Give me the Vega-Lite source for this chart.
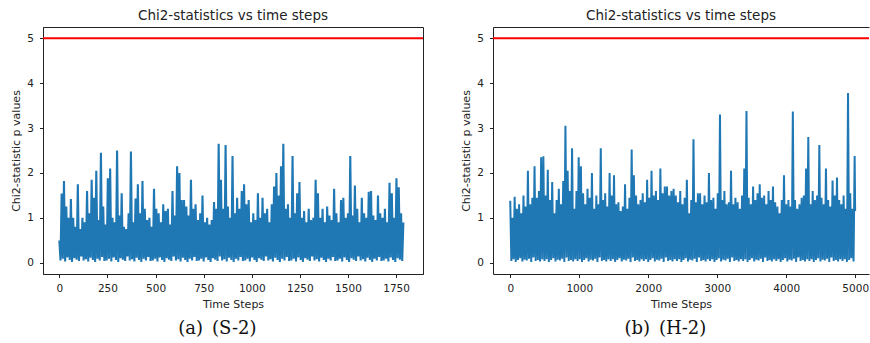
{
"$schema": "https://vega.github.io/schema/vega-lite/v6.json",
"background": "white",
"padding": {"left": 10, "top": 8, "right": 0, "bottom": 0},
"spacing": 35,
"config": {
  "font": "DejaVu Sans",
  "view": {"stroke": "#222", "strokeWidth": 1},
  "axis": {"grid": false, "labelFont": "DejaVu Sans", "labelFontSize": 10.5, "labelColor": "#222", "titleFont": "DejaVu Sans", "titleFontSize": 11, "titleFontWeight": "normal", "titleColor": "#222", "tickColor": "#222", "domainColor": "#222", "tickSize": 3.5, "labelPadding": 3, "titlePadding": 5},
  "axisX": {"labelPadding": 5.5, "titlePadding": 5},
  "axisY": {"labelPadding": 6, "titlePadding": 5},
  "title": {"fontWeight": "normal", "color": "#222"}
},
"datasets": {
"s2": [
{"t":0,"v":0.5},{"t":6,"v":0.05},{"t":12,"v":1.54},{"t":18,"v":0.09},{"t":24,"v":1.82},{"t":30,"v":0.03},{"t":36,"v":1.25},{"t":42,"v":0.12},{"t":48,"v":1.0},{"t":54,"v":0.06},
{"t":60,"v":1.42},{"t":66,"v":0.02},{"t":72,"v":1.0},{"t":78,"v":0.1},{"t":84,"v":0.8},{"t":90,"v":0.07},{"t":96,"v":1.75},{"t":102,"v":0.04},{"t":108,"v":0.75},{"t":114,"v":0.14},
{"t":120,"v":1.0},{"t":126,"v":0.05},{"t":132,"v":0.9},{"t":138,"v":0.08},{"t":144,"v":1.6},{"t":150,"v":0.03},{"t":156,"v":1.1},{"t":162,"v":0.11},{"t":168,"v":1.85},{"t":174,"v":0.06},
{"t":180,"v":1.45},{"t":186,"v":0.02},{"t":192,"v":2.05},{"t":198,"v":0.09},{"t":204,"v":0.95},{"t":210,"v":0.05},{"t":216,"v":2.45},{"t":222,"v":0.13},{"t":228,"v":1.25},{"t":234,"v":0.04},
{"t":240,"v":0.85},{"t":246,"v":0.05},{"t":252,"v":1.88},{"t":258,"v":0.09},{"t":264,"v":2.1},{"t":270,"v":0.03},{"t":276,"v":1.0},{"t":282,"v":0.12},{"t":288,"v":0.9},{"t":294,"v":0.06},
{"t":300,"v":2.5},{"t":306,"v":0.02},{"t":312,"v":1.05},{"t":318,"v":0.1},{"t":324,"v":1.55},{"t":330,"v":0.07},{"t":336,"v":0.8},{"t":342,"v":0.04},{"t":348,"v":0.75},{"t":354,"v":0.14},
{"t":360,"v":1.1},{"t":366,"v":0.05},{"t":372,"v":2.48},{"t":378,"v":0.08},{"t":384,"v":0.9},{"t":390,"v":0.03},{"t":396,"v":1.43},{"t":402,"v":0.11},{"t":408,"v":1.75},{"t":414,"v":0.06},
{"t":420,"v":1.1},{"t":426,"v":0.02},{"t":432,"v":1.82},{"t":438,"v":0.09},{"t":444,"v":1.2},{"t":450,"v":0.05},{"t":456,"v":0.95},{"t":462,"v":0.13},{"t":468,"v":1.0},{"t":474,"v":0.04},
{"t":480,"v":0.8},{"t":486,"v":0.05},{"t":492,"v":1.65},{"t":498,"v":0.09},{"t":504,"v":1.2},{"t":510,"v":0.03},{"t":516,"v":1.1},{"t":522,"v":0.12},{"t":528,"v":0.9},{"t":534,"v":0.06},
{"t":540,"v":1.3},{"t":546,"v":0.02},{"t":552,"v":1.15},{"t":558,"v":0.1},{"t":564,"v":1.2},{"t":570,"v":0.07},{"t":576,"v":0.85},{"t":582,"v":0.04},{"t":588,"v":1.6},{"t":594,"v":0.14},
{"t":600,"v":1.05},{"t":606,"v":0.05},{"t":612,"v":2.15},{"t":618,"v":0.08},{"t":624,"v":2.0},{"t":630,"v":0.03},{"t":636,"v":1.4},{"t":642,"v":0.11},{"t":648,"v":1.4},{"t":654,"v":0.06},
{"t":660,"v":1.25},{"t":666,"v":0.02},{"t":672,"v":1.05},{"t":678,"v":0.09},{"t":684,"v":1.85},{"t":690,"v":0.05},{"t":696,"v":1.2},{"t":702,"v":0.13},{"t":708,"v":1.3},{"t":714,"v":0.04},
{"t":720,"v":0.95},{"t":726,"v":0.05},{"t":732,"v":1.1},{"t":738,"v":0.09},{"t":744,"v":1.5},{"t":750,"v":0.03},{"t":756,"v":0.9},{"t":762,"v":0.12},{"t":768,"v":1.0},{"t":774,"v":0.06},
{"t":780,"v":0.85},{"t":786,"v":0.02},{"t":792,"v":0.95},{"t":798,"v":0.1},{"t":804,"v":1.35},{"t":810,"v":0.07},{"t":816,"v":1.2},{"t":822,"v":0.04},{"t":828,"v":2.65},{"t":834,"v":0.14},
{"t":840,"v":1.85},{"t":846,"v":0.05},{"t":852,"v":1.2},{"t":858,"v":0.08},{"t":864,"v":2.62},{"t":870,"v":0.03},{"t":876,"v":1.25},{"t":882,"v":0.11},{"t":888,"v":1.0},{"t":894,"v":0.06},
{"t":900,"v":2.38},{"t":906,"v":0.02},{"t":912,"v":1.1},{"t":918,"v":0.09},{"t":924,"v":1.45},{"t":930,"v":0.05},{"t":936,"v":1.2},{"t":942,"v":0.13},{"t":948,"v":1.6},{"t":954,"v":0.04},
{"t":960,"v":1.75},{"t":966,"v":0.05},{"t":972,"v":1.3},{"t":978,"v":0.09},{"t":984,"v":1.4},{"t":990,"v":0.03},{"t":996,"v":0.9},{"t":1002,"v":0.12},{"t":1008,"v":1.1},{"t":1014,"v":0.06},
{"t":1020,"v":0.95},{"t":1026,"v":0.02},{"t":1032,"v":1.55},{"t":1038,"v":0.1},{"t":1044,"v":1.0},{"t":1050,"v":0.07},{"t":1056,"v":1.45},{"t":1062,"v":0.04},{"t":1068,"v":1.1},{"t":1074,"v":0.14},
{"t":1080,"v":1.2},{"t":1086,"v":0.05},{"t":1092,"v":0.9},{"t":1098,"v":0.08},{"t":1104,"v":1.3},{"t":1110,"v":0.03},{"t":1116,"v":1.7},{"t":1122,"v":0.11},{"t":1128,"v":2.0},{"t":1134,"v":0.06},
{"t":1140,"v":1.5},{"t":1146,"v":0.02},{"t":1152,"v":2.15},{"t":1158,"v":0.09},{"t":1164,"v":2.65},{"t":1170,"v":0.05},{"t":1176,"v":1.2},{"t":1182,"v":0.13},{"t":1188,"v":1.3},{"t":1194,"v":0.04},
{"t":1200,"v":1.0},{"t":1206,"v":0.05},{"t":1212,"v":2.38},{"t":1218,"v":0.09},{"t":1224,"v":1.1},{"t":1230,"v":0.03},{"t":1236,"v":1.55},{"t":1242,"v":0.12},{"t":1248,"v":1.8},{"t":1254,"v":0.06},
{"t":1260,"v":1.0},{"t":1266,"v":0.02},{"t":1272,"v":1.15},{"t":1278,"v":0.1},{"t":1284,"v":0.9},{"t":1290,"v":0.07},{"t":1296,"v":1.2},{"t":1302,"v":0.04},{"t":1308,"v":0.95},{"t":1314,"v":0.14},
{"t":1320,"v":1.0},{"t":1326,"v":0.05},{"t":1332,"v":1.85},{"t":1338,"v":0.08},{"t":1344,"v":1.55},{"t":1350,"v":0.03},{"t":1356,"v":1.0},{"t":1362,"v":0.11},{"t":1368,"v":1.2},{"t":1374,"v":0.06},
{"t":1380,"v":0.9},{"t":1386,"v":0.02},{"t":1392,"v":1.25},{"t":1398,"v":0.09},{"t":1404,"v":1.05},{"t":1410,"v":0.05},{"t":1416,"v":0.95},{"t":1422,"v":0.13},{"t":1428,"v":1.65},{"t":1434,"v":0.04},
{"t":1440,"v":1.1},{"t":1446,"v":0.05},{"t":1452,"v":0.9},{"t":1458,"v":0.09},{"t":1464,"v":1.4},{"t":1470,"v":0.03},{"t":1476,"v":1.45},{"t":1482,"v":0.12},{"t":1488,"v":1.0},{"t":1494,"v":0.06},
{"t":1500,"v":1.1},{"t":1506,"v":0.02},{"t":1512,"v":2.38},{"t":1518,"v":0.1},{"t":1524,"v":1.05},{"t":1530,"v":0.07},{"t":1536,"v":1.72},{"t":1542,"v":0.04},{"t":1548,"v":1.2},{"t":1554,"v":0.14},
{"t":1560,"v":0.9},{"t":1566,"v":0.05},{"t":1572,"v":1.45},{"t":1578,"v":0.08},{"t":1584,"v":1.1},{"t":1590,"v":0.03},{"t":1596,"v":1.0},{"t":1602,"v":0.11},{"t":1608,"v":1.58},{"t":1614,"v":0.06},
{"t":1620,"v":1.6},{"t":1626,"v":0.02},{"t":1632,"v":1.05},{"t":1638,"v":0.09},{"t":1644,"v":0.95},{"t":1650,"v":0.05},{"t":1656,"v":1.5},{"t":1662,"v":0.13},{"t":1668,"v":1.1},{"t":1674,"v":0.04},
{"t":1680,"v":1.0},{"t":1686,"v":0.05},{"t":1692,"v":1.2},{"t":1698,"v":0.09},{"t":1704,"v":0.9},{"t":1710,"v":0.03},{"t":1716,"v":1.78},{"t":1722,"v":0.12},{"t":1728,"v":1.55},{"t":1734,"v":0.06},
{"t":1740,"v":1.0},{"t":1746,"v":0.02},{"t":1752,"v":1.88},{"t":1758,"v":0.1},{"t":1764,"v":1.68},{"t":1770,"v":0.07},{"t":1776,"v":1.1},{"t":1782,"v":0.04},{"t":1788,"v":0.9}
],
"h2": [
{"t":0,"v":1.38},{"t":16,"v":0.04},{"t":32,"v":1.0},{"t":48,"v":0.08},{"t":64,"v":1.47},{"t":80,"v":0.02},{"t":96,"v":1.2},{"t":112,"v":0.06},{"t":128,"v":1.3},{"t":144,"v":0.1},
{"t":160,"v":1.1},{"t":176,"v":0.03},{"t":192,"v":1.5},{"t":208,"v":0.07},{"t":224,"v":1.25},{"t":240,"v":0.05},{"t":256,"v":2.05},{"t":272,"v":0.09},{"t":288,"v":1.3},{"t":304,"v":0.02},
{"t":320,"v":1.45},{"t":336,"v":0.12},{"t":352,"v":2.15},{"t":368,"v":0.04},{"t":384,"v":1.45},{"t":400,"v":0.06},{"t":416,"v":1.6},{"t":432,"v":0.03},{"t":448,"v":2.35},{"t":464,"v":0.08},
{"t":480,"v":2.37},{"t":496,"v":0.04},{"t":512,"v":1.5},{"t":528,"v":0.08},{"t":544,"v":2.07},{"t":560,"v":0.02},{"t":576,"v":1.4},{"t":592,"v":0.06},{"t":608,"v":1.8},{"t":624,"v":0.1},
{"t":640,"v":1.1},{"t":656,"v":0.03},{"t":672,"v":1.4},{"t":688,"v":0.07},{"t":704,"v":1.65},{"t":720,"v":0.05},{"t":736,"v":1.3},{"t":752,"v":0.09},{"t":768,"v":1.82},{"t":784,"v":0.02},
{"t":800,"v":3.05},{"t":816,"v":0.12},{"t":832,"v":2.05},{"t":848,"v":0.04},{"t":864,"v":1.6},{"t":880,"v":0.06},{"t":896,"v":2.55},{"t":912,"v":0.03},{"t":928,"v":1.2},{"t":944,"v":0.08},
{"t":960,"v":1.6},{"t":976,"v":0.04},{"t":992,"v":2.35},{"t":1008,"v":0.08},{"t":1024,"v":2.15},{"t":1040,"v":0.02},{"t":1056,"v":1.55},{"t":1072,"v":0.06},{"t":1088,"v":1.3},{"t":1104,"v":0.1},
{"t":1120,"v":1.65},{"t":1136,"v":0.03},{"t":1152,"v":1.45},{"t":1168,"v":0.07},{"t":1184,"v":2.0},{"t":1200,"v":0.05},{"t":1216,"v":1.2},{"t":1232,"v":0.09},{"t":1248,"v":1.5},{"t":1264,"v":0.02},
{"t":1280,"v":1.3},{"t":1296,"v":0.12},{"t":1312,"v":2.55},{"t":1328,"v":0.04},{"t":1344,"v":1.4},{"t":1360,"v":0.06},{"t":1376,"v":1.55},{"t":1392,"v":0.03},{"t":1408,"v":1.25},{"t":1424,"v":0.08},
{"t":1440,"v":2.0},{"t":1456,"v":0.04},{"t":1472,"v":1.5},{"t":1488,"v":0.08},{"t":1504,"v":1.95},{"t":1520,"v":0.02},{"t":1536,"v":1.3},{"t":1552,"v":0.06},{"t":1568,"v":1.35},{"t":1584,"v":0.1},
{"t":1600,"v":1.15},{"t":1616,"v":0.03},{"t":1632,"v":1.25},{"t":1648,"v":0.07},{"t":1664,"v":1.75},{"t":1680,"v":0.05},{"t":1696,"v":1.2},{"t":1712,"v":0.09},{"t":1728,"v":1.45},{"t":1744,"v":0.02},
{"t":1760,"v":2.52},{"t":1776,"v":0.12},{"t":1792,"v":1.95},{"t":1808,"v":0.04},{"t":1824,"v":1.5},{"t":1840,"v":0.06},{"t":1856,"v":1.3},{"t":1872,"v":0.03},{"t":1888,"v":1.4},{"t":1904,"v":0.08},
{"t":1920,"v":1.55},{"t":1936,"v":0.04},{"t":1952,"v":1.35},{"t":1968,"v":0.08},{"t":1984,"v":1.85},{"t":2000,"v":0.02},{"t":2016,"v":1.45},{"t":2032,"v":0.06},{"t":2048,"v":2.05},{"t":2064,"v":0.1},
{"t":2080,"v":1.5},{"t":2096,"v":0.03},{"t":2112,"v":1.6},{"t":2128,"v":0.07},{"t":2144,"v":1.4},{"t":2160,"v":0.05},{"t":2176,"v":2.1},{"t":2192,"v":0.09},{"t":2208,"v":1.55},{"t":2224,"v":0.02},
{"t":2240,"v":1.7},{"t":2256,"v":0.12},{"t":2272,"v":1.7},{"t":2288,"v":0.04},{"t":2304,"v":1.5},{"t":2320,"v":0.06},{"t":2336,"v":1.6},{"t":2352,"v":0.03},{"t":2368,"v":1.65},{"t":2384,"v":0.08},
{"t":2400,"v":1.5},{"t":2416,"v":0.04},{"t":2432,"v":1.35},{"t":2448,"v":0.08},{"t":2464,"v":1.6},{"t":2480,"v":0.02},{"t":2496,"v":1.3},{"t":2512,"v":0.06},{"t":2528,"v":1.45},{"t":2544,"v":0.1},
{"t":2560,"v":1.85},{"t":2576,"v":0.03},{"t":2592,"v":1.1},{"t":2608,"v":0.07},{"t":2624,"v":1.4},{"t":2640,"v":0.05},{"t":2656,"v":2.75},{"t":2672,"v":0.09},{"t":2688,"v":1.35},{"t":2704,"v":0.02},
{"t":2720,"v":1.55},{"t":2736,"v":0.12},{"t":2752,"v":1.55},{"t":2768,"v":0.04},{"t":2784,"v":1.3},{"t":2800,"v":0.06},{"t":2816,"v":1.5},{"t":2832,"v":0.03},{"t":2848,"v":1.35},{"t":2864,"v":0.08},
{"t":2880,"v":2.0},{"t":2896,"v":0.04},{"t":2912,"v":1.4},{"t":2928,"v":0.08},{"t":2944,"v":1.45},{"t":2960,"v":0.02},{"t":2976,"v":1.2},{"t":2992,"v":0.06},{"t":3008,"v":1.55},{"t":3024,"v":0.1},
{"t":3040,"v":3.3},{"t":3056,"v":0.03},{"t":3072,"v":1.4},{"t":3088,"v":0.07},{"t":3104,"v":1.6},{"t":3120,"v":0.05},{"t":3136,"v":1.3},{"t":3152,"v":0.09},{"t":3168,"v":1.35},{"t":3184,"v":0.02},
{"t":3200,"v":2.05},{"t":3216,"v":0.12},{"t":3232,"v":1.3},{"t":3248,"v":0.04},{"t":3264,"v":1.45},{"t":3280,"v":0.06},{"t":3296,"v":1.35},{"t":3312,"v":0.03},{"t":3328,"v":1.2},{"t":3344,"v":0.08},
{"t":3360,"v":1.5},{"t":3376,"v":0.04},{"t":3392,"v":2.1},{"t":3408,"v":0.08},{"t":3424,"v":3.38},{"t":3440,"v":0.02},{"t":3456,"v":1.45},{"t":3472,"v":0.06},{"t":3488,"v":1.3},{"t":3504,"v":0.1},
{"t":3520,"v":1.7},{"t":3536,"v":0.03},{"t":3552,"v":1.4},{"t":3568,"v":0.07},{"t":3584,"v":1.55},{"t":3600,"v":0.05},{"t":3616,"v":1.75},{"t":3632,"v":0.09},{"t":3648,"v":1.45},{"t":3664,"v":0.02},
{"t":3680,"v":1.5},{"t":3696,"v":0.12},{"t":3712,"v":1.3},{"t":3728,"v":0.04},{"t":3744,"v":1.6},{"t":3760,"v":0.06},{"t":3776,"v":1.4},{"t":3792,"v":0.03},{"t":3808,"v":1.7},{"t":3824,"v":0.08},
{"t":3840,"v":1.35},{"t":3856,"v":0.04},{"t":3872,"v":1.25},{"t":3888,"v":0.08},{"t":3904,"v":1.1},{"t":3920,"v":0.02},{"t":3936,"v":1.4},{"t":3952,"v":0.06},{"t":3968,"v":1.95},{"t":3984,"v":0.1},
{"t":4000,"v":1.3},{"t":4016,"v":0.03},{"t":4032,"v":1.4},{"t":4048,"v":0.07},{"t":4064,"v":1.25},{"t":4080,"v":0.05},{"t":4096,"v":3.37},{"t":4112,"v":0.09},{"t":4128,"v":1.4},{"t":4144,"v":0.02},
{"t":4160,"v":1.2},{"t":4176,"v":0.12},{"t":4192,"v":1.3},{"t":4208,"v":0.04},{"t":4224,"v":1.45},{"t":4240,"v":0.06},{"t":4256,"v":1.5},{"t":4272,"v":0.03},{"t":4288,"v":2.1},{"t":4304,"v":0.08},
{"t":4320,"v":2.8},{"t":4336,"v":0.04},{"t":4352,"v":1.3},{"t":4368,"v":0.08},{"t":4384,"v":1.6},{"t":4400,"v":0.02},{"t":4416,"v":1.4},{"t":4432,"v":0.06},{"t":4448,"v":1.5},{"t":4464,"v":0.1},
{"t":4480,"v":2.62},{"t":4496,"v":0.03},{"t":4512,"v":1.45},{"t":4528,"v":0.07},{"t":4544,"v":1.3},{"t":4560,"v":0.05},{"t":4576,"v":2.1},{"t":4592,"v":0.09},{"t":4608,"v":1.4},{"t":4624,"v":0.02},
{"t":4640,"v":1.25},{"t":4656,"v":0.12},{"t":4672,"v":1.83},{"t":4688,"v":0.04},{"t":4704,"v":1.5},{"t":4720,"v":0.06},{"t":4736,"v":1.9},{"t":4752,"v":0.03},{"t":4768,"v":1.4},{"t":4784,"v":0.08},
{"t":4800,"v":1.3},{"t":4816,"v":0.04},{"t":4832,"v":1.5},{"t":4848,"v":0.08},{"t":4864,"v":1.2},{"t":4880,"v":0.02},{"t":4896,"v":3.78},{"t":4912,"v":0.06},{"t":4928,"v":1.55},{"t":4944,"v":0.1},
{"t":4960,"v":1.2},{"t":4976,"v":0.03},{"t":4992,"v":2.38},{"t":4999,"v":1.15}
]
},
"hconcat": [
{
  "title": {"text": "(a)\u2002(S-2)", "orient": "bottom", "anchor": "middle", "font": "DejaVu Serif", "fontSize": 18, "fontWeight": "normal", "color": "#111", "offset": 10},
  "vconcat": [
  {
    "title": {"text": "Chi2-statistics vs time steps", "frame": "group", "anchor": "middle", "fontSize": 13.5, "offset": 5},
    "width": 380,
    "height": 247,
    "layer": [
      {"data": {"name": "s2"}, "mark": {"type": "line", "color": "#1f77b4", "strokeWidth": 2.1},
       "encoding": {
         "x": {"field": "t", "type": "quantitative", "scale": {"domain": [-85, 1890], "nice": false, "zero": false}, "axis": {"values": [0,250,500,750,1000,1250,1500,1750], "format": "d", "title": "Time Steps"}},
         "y": {"field": "v", "type": "quantitative", "scale": {"domain": [-0.25, 5.25], "nice": false, "zero": false}, "axis": {"values": [0,1,2,3,4,5], "format": "d", "title": "Chi2-statistic p values"}}
       }},
      {"data": {"values": [{"v": 5}]}, "mark": {"type": "rule", "color": "#ff0000", "strokeWidth": 2},
       "encoding": {"y": {"field": "v", "type": "quantitative", "axis": {"title": "Chi2-statistic p values"}}}}
    ]
  }]
},
{
  "title": {"text": "(b)\u2002(H-2)", "orient": "bottom", "anchor": "middle", "font": "DejaVu Serif", "fontSize": 18, "fontWeight": "normal", "color": "#111", "offset": 10},
  "vconcat": [
  {
    "title": {"text": "Chi2-statistics vs time steps", "frame": "group", "anchor": "middle", "fontSize": 13.5, "offset": 5},
    "width": 376,
    "height": 247,
    "view": {"stroke": null},
    "layer": [
      {"data": {"name": "h2"}, "mark": {"type": "line", "color": "#1f77b4", "strokeWidth": 2},
       "encoding": {
         "x": {"field": "t", "type": "quantitative", "scale": {"domain": [-250, 5200], "nice": false, "zero": false}, "axis": {"values": [0,1000,2000,3000,4000,5000], "format": "d", "title": "Time Steps", "orient": "bottom"}},
         "y": {"field": "v", "type": "quantitative", "scale": {"domain": [-0.25, 5.25], "nice": false, "zero": false}, "axis": {"values": [0,1,2,3,4,5], "format": "d", "title": "Chi2-statistic p values"}}
       }},
      {"data": {"values": [{"v": 5}]}, "mark": {"type": "rule", "color": "#ff0000", "strokeWidth": 2},
       "encoding": {"y": {"field": "v", "type": "quantitative", "axis": {"title": "Chi2-statistic p values"}}}},
      {"data": {"values": [{"t": 0}]}, "mark": {"type": "point", "opacity": 0},
       "encoding": {"x": {"field": "t", "type": "quantitative", "axis": {"orient": "top", "labels": false, "ticks": false, "title": null, "domain": true}}}}
    ],
    "resolve": {"axis": {"x": "independent"}}
  }]
}
]
}
